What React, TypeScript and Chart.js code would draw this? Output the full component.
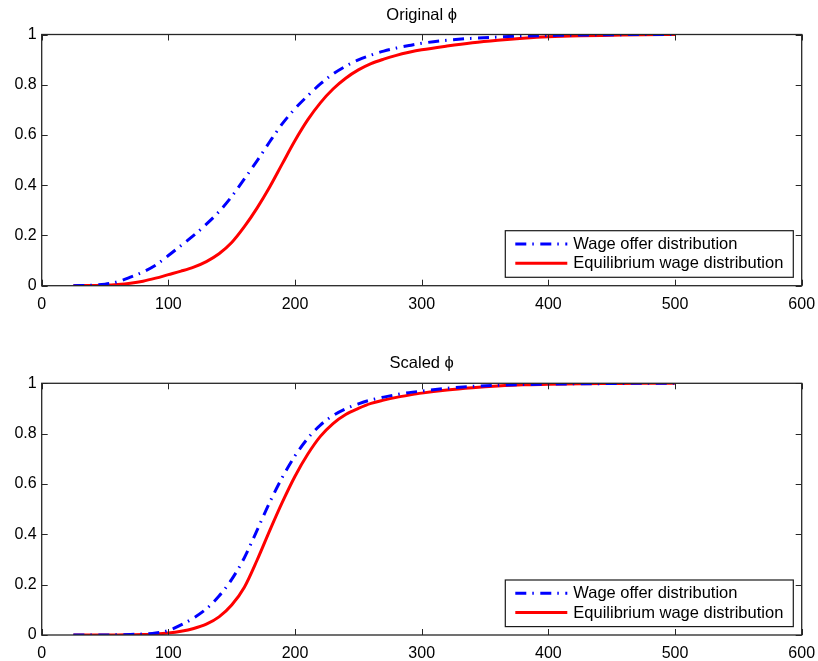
import React, { useEffect, useRef } from "react";
import { Chart, registerables } from "chart.js";

Chart.register(...registerables);

// ---------- data ----------
const wageGrid = [25, 40, 50, 60, 70, 80, 90, 100, 110, 120, 130, 140, 150, 160, 170, 180, 190, 200, 210, 220, 230, 240, 250, 260, 270, 280, 290, 300, 320, 340, 360, 380, 400, 425, 450, 475, 500];

const originalOffer = [0, 0.002, 0.006, 0.016, 0.034, 0.055, 0.082, 0.12, 0.16, 0.2, 0.245, 0.295, 0.355, 0.425, 0.497, 0.573, 0.645, 0.705, 0.756, 0.803, 0.843, 0.874, 0.899, 0.918, 0.934, 0.946, 0.956, 0.965, 0.977, 0.985, 0.99, 0.994, 0.996, 0.998, 0.999, 1, 1];
const originalEquilibrium = [0, 0.001, 0.002, 0.005, 0.01, 0.018, 0.03, 0.044, 0.058, 0.074, 0.096, 0.127, 0.172, 0.235, 0.309, 0.393, 0.486, 0.578, 0.66, 0.728, 0.783, 0.826, 0.859, 0.884, 0.902, 0.917, 0.929, 0.939, 0.954, 0.967, 0.977, 0.985, 0.991, 0.995, 0.997, 0.999, 1];

const scaledOffer = [0, 0, 0, 0.001, 0.002, 0.004, 0.008, 0.018, 0.04, 0.068, 0.104, 0.155, 0.221, 0.307, 0.416, 0.527, 0.627, 0.712, 0.781, 0.834, 0.872, 0.899, 0.918, 0.934, 0.945, 0.955, 0.963, 0.969, 0.98, 0.988, 0.992, 0.995, 0.997, 0.998, 0.999, 1, 1];
const scaledEquilibrium = [0, 0, 0, 0, 0.001, 0.002, 0.004, 0.008, 0.015, 0.026, 0.043, 0.072, 0.119, 0.19, 0.297, 0.415, 0.528, 0.631, 0.718, 0.789, 0.84, 0.876, 0.9, 0.92, 0.933, 0.944, 0.953, 0.961, 0.973, 0.982, 0.989, 0.994, 0.996, 0.998, 0.999, 1, 1];

const xTicks = [0, 100, 200, 300, 400, 500, 600];
const yTicks = [0, 0.2, 0.4, 0.6, 0.8, 1];
const yTickLabels = ["0", "0.2", "0.4", "0.6", "0.8", "1"];
const seriesLabels = ["Wage offer distribution", "Equilibrium wage distribution"];
const panelTitles = ["Original \u03D5", "Scaled \u03D5"];

// ---------- styling ----------
const FONT = "'Liberation Sans', Arial, Helvetica, sans-serif";
const TEXT = "#000000";
const FRAME = "#262626";
const AXIS_LEFT = 41.7;
const AXIS_RIGHT_PAD = 16.3;

const framePlugin = {
  id: "matlabFrame",
  afterDatasetsDraw(chart: any) {
    const { ctx, chartArea } = chart;
    const { left, right, top, bottom } = chartArea;
    const xs = chart.scales.x;
    const ys = chart.scales.y;
    const tl = 6;
    ctx.save();
    ctx.strokeStyle = FRAME;
    ctx.lineWidth = 1;
    ctx.beginPath();
    xTicks.forEach((v) => {
      const px = Math.round(xs.getPixelForValue(v)) + 0.5;
      ctx.moveTo(px, bottom);
      ctx.lineTo(px, bottom - tl);
      ctx.moveTo(px, top);
      ctx.lineTo(px, top + tl);
    });
    yTicks.forEach((v) => {
      const py = Math.round(ys.getPixelForValue(v)) + 0.5;
      ctx.moveTo(left, py);
      ctx.lineTo(left + tl, py);
      ctx.moveTo(right, py);
      ctx.lineTo(right - tl, py);
    });
    ctx.stroke();
    ctx.lineWidth = 1.3;
    ctx.strokeRect(left, top, right - left, bottom - top);

    // legend box
    const w = 288;
    const h = 46.6;
    const bx = right - 8.4 - w;
    const by = bottom - 8.4 - h;
    ctx.fillStyle = "#ffffff";
    ctx.fillRect(bx, by, w, h);
    ctx.lineWidth = 1.2;
    ctx.strokeStyle = "#1a1a1a";
    ctx.strokeRect(bx, by, w, h);
    const rows = [by + 13.3, by + 32.6];
    chart.data.datasets.forEach((ds: any, i: number) => {
      const ry = rows[i];
      ctx.save();
      ctx.strokeStyle = ds.borderColor;
      ctx.lineWidth = ds.borderWidth;
      ctx.lineCap = "butt";
      ctx.setLineDash(ds.borderDash || []);
      ctx.beginPath();
      ctx.moveTo(bx + 10, ry);
      ctx.lineTo(bx + 62, ry);
      ctx.stroke();
      ctx.restore();
      ctx.fillStyle = TEXT;
      ctx.font = `16.5px ${FONT}`;
      ctx.textAlign = "left";
      ctx.textBaseline = "middle";
      ctx.fillText(ds.label, bx + 68, ry + 0.5);
    });
    ctx.restore();
  },
};

type PanelProps = {
  title: string;
  offer: number[];
  equilibrium: number[];
  top: number;
  height: number;
  xAxisHeight: number;
  titlePad: { top: number; bottom: number };
};

function Panel({ title, offer, equilibrium, top, height, xAxisHeight, titlePad }: PanelProps) {
  const ref = useRef<HTMLCanvasElement | null>(null);
  useEffect(() => {
    if (!ref.current) return;
    const chart = new Chart(ref.current, {
      type: "line",
      data: {
        datasets: [
          {
            label: seriesLabels[0],
            data: wageGrid.map((x, i) => ({ x, y: offer[i] })),
            borderColor: "#0000ff",
            borderWidth: 3,
            borderDash: [11, 6, 1.5, 6.5],
            borderCapStyle: "butt",
            pointRadius: 0,
            fill: false,
            cubicInterpolationMode: "monotone",
          },
          {
            label: seriesLabels[1],
            data: wageGrid.map((x, i) => ({ x, y: equilibrium[i] })),
            borderColor: "#ff0000",
            borderWidth: 3,
            pointRadius: 0,
            fill: false,
            cubicInterpolationMode: "monotone",
          },
        ],
      },
      options: {
        responsive: false,
        animation: false,
        devicePixelRatio: 1,
        layout: { padding: { left: 0, right: AXIS_RIGHT_PAD, top: 0, bottom: 0 } },
        plugins: {
          legend: { display: false },
          tooltip: { enabled: false },
          title: {
            display: true,
            fullSize: false,
            text: title,
            color: TEXT,
            font: { family: FONT, size: 16.5, weight: "normal", lineHeight: 1.2 },
            padding: titlePad,
          },
        },
        scales: {
          x: {
            type: "linear",
            min: 0,
            max: 600,
            grid: { display: false, drawTicks: false, tickLength: 0 },
            border: { display: false },
            afterBuildTicks: (s: any) => {
              s.ticks = xTicks.map((v) => ({ value: v }));
            },
            afterFit: (s: any) => {
              s.height = xAxisHeight;
              s.paddingLeft = 0;
              s.paddingRight = 0;
            },
            ticks: {
              color: TEXT,
              padding: 9,
              maxRotation: 0,
              autoSkip: false,
              font: { family: FONT, size: 16 },
              callback: (v: any) => String(v),
            },
          },
          y: {
            type: "linear",
            min: 0,
            max: 1,
            grid: { display: false, drawTicks: false, tickLength: 0 },
            border: { display: false },
            afterBuildTicks: (s: any) => {
              s.ticks = yTicks.map((v) => ({ value: v }));
            },
            afterFit: (s: any) => {
              s.width = AXIS_LEFT;
              s.paddingTop = 0;
              s.paddingBottom = 0;
            },
            ticks: {
              color: TEXT,
              padding: 5,
              autoSkip: false,
              font: { family: FONT, size: 16 },
              callback: (v: any) => {
                const idx = yTicks.findIndex((t) => Math.abs(t - v) < 1e-9);
                return idx >= 0 ? yTickLabels[idx] : "";
              },
            },
          },
        },
      } as any,
      plugins: [framePlugin],
    });
    return () => chart.destroy();
  }, [title, offer, equilibrium, xAxisHeight, titlePad]);

  return (
    <canvas
      ref={ref}
      width={818}
      height={height}
      style={{ position: "absolute", left: 0, top, width: 818, height }}
    />
  );
}

const topPad = { top: 5.5, bottom: 9.2 };
const bottomPad = { top: 4.5, bottom: 10 };

export default function App() {
  return (
    <div style={{ position: "absolute", left: 0, top: 0, width: 818, height: 661, background: "#ffffff" }}>
      <Panel
        title={panelTitles[0]}
        offer={originalOffer}
        equilibrium={originalEquilibrium}
        top={0}
        height={330}
        xAxisHeight={44.3}
        titlePad={topPad}
      />
      <Panel
        title={panelTitles[1]}
        offer={scaledOffer}
        equilibrium={scaledEquilibrium}
        top={349}
        height={312}
        xAxisHeight={26}
        titlePad={bottomPad}
      />
    </div>
  );
}
